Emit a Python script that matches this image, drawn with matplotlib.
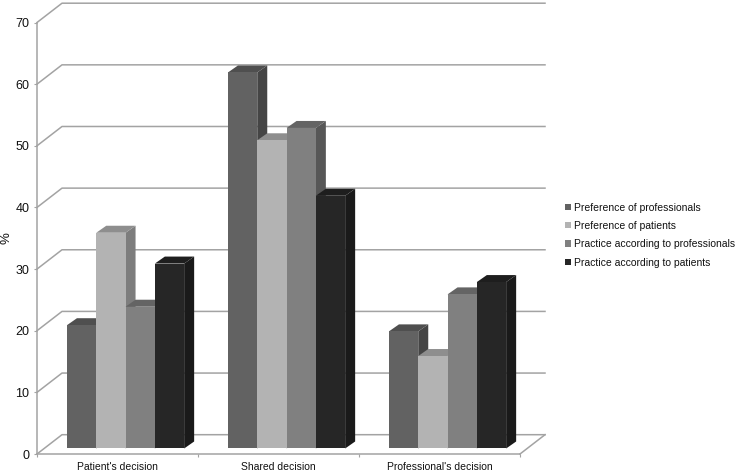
#!/usr/bin/env python3

# Pseudo-3D grouped bars, drawn by hand since the look is a spreadsheet 3D column chart

import numpy as np
from matplotlib import pyplot as plt
from matplotlib.patches import Polygon, Patch
import matplotlib

categories = ["Patient's decision", "Shared decision", "Professional's decision"]
series_names = ["Preference of professionals", "Preference of patients",
                "Practice according to professionals", "Practice according to patients"]
pref_professionals = [20, 61, 19]
pref_patients = [35, 50, 15]
prac_professionals = [23, 52, 25]
prac_patients = [30, 41, 27]
yticks = [0, 10, 20, 30, 40, 50, 60, 70]

params = {
    'font.family': ['Liberation Sans', 'DejaVu Sans'],
    'font.size': 8,
    'xtick.labelsize': 7.5,
    'ytick.labelsize': 9,
    'legend.fontsize': 7.5,
}
matplotlib.rcParams.update(params)

W, H = 737, 473
fig = plt.figure(figsize=(W / 100, H / 100), dpi=100)
ax = fig.add_axes([37 / W, 1 - 454 / H, 483 / W, 431.5 / H])
ax.set_xlim(0, 3)
ax.set_ylim(0, 70)
ax.patch.set_alpha(0)

gray = '#a3a3a3'

# offsets of the back wall and of the bar depth, in data units
wall_dx, wall_dy = 25 / 161, 19.3 / 6.164
depth_dx, depth_dy = 10 / 161, 7 / 6.164
floor = 5.5 / 6.164
width = 29.3 / 161

# back wall
for v in yticks:
    ax.plot([0, wall_dx, 3 + wall_dx], [v, v + wall_dy, v + wall_dy],
            color=gray, lw=1.1, clip_on=False, zorder=1)
ax.plot([3, 3 + wall_dx], [0, wall_dy], color=gray, lw=1.1, clip_on=False, zorder=1)

series = [pref_professionals, pref_patients, prac_professionals, prac_patients]
front = ['#626262', '#b3b3b3', '#808080', '#262626']
top = ['#4f4f4f', '#8e8e8e', '#646464', '#1e1e1e']
side = ['#454545', '#7d7d7d', '#575757', '#1a1a1a']

z = 3
for c in range(len(categories)):
    left = c + 0.55 - 2 * width
    for s in range(4):
        x0 = left + s * width
        x1 = x0 + width
        v = series[s][c]
        y0 = floor
        y1 = floor + v
        ax.add_patch(Polygon([(x1, y0), (x1 + depth_dx, y0 + depth_dy),
                              (x1 + depth_dx, y1 + depth_dy), (x1, y1)],
                             fc=side[s], ec='none', clip_on=False, zorder=z))
        ax.add_patch(Polygon([(x0, y1), (x0 + depth_dx, y1 + depth_dy),
                              (x1 + depth_dx, y1 + depth_dy), (x1, y1)],
                             fc=top[s], ec='none', clip_on=False, zorder=z))
        ax.bar(x0, v, width=width, bottom=floor, align='edge', color=front[s],
               clip_on=False, zorder=z + 0.5)
        z += 1

for name in ['top', 'right']:
    ax.spines[name].set_visible(False)
for name in ['left', 'bottom']:
    ax.spines[name].set_color(gray)
    ax.spines[name].set_linewidth(1.1)
    ax.spines[name].set_zorder(2)

ax.set_yticks(yticks)
ax.tick_params(axis='y', length=2.5, width=0.8, color=gray, pad=3, labelcolor='#111111')
ax.set_xticks([0, 1, 2, 3])
ax.set_xticklabels([])
ax.tick_params(axis='x', which='major', length=2.5, width=0.8, color=gray)
ax.set_xticks([0.5, 1.5, 2.5], minor=True)
ax.set_xticklabels(categories, minor=True)
ax.tick_params(axis='x', which='minor', length=0, pad=6, labelcolor='#111111')

fig.text(7 / W, 1 - 238 / H, "%", rotation=90, ha='center', va='center',
         fontsize=9.5, color='#111111')

handles = [Patch(fc=front[s], ec='none') for s in range(4)]
ax.legend(handles, series_names, loc='center left', bbox_to_anchor=(565 / W, 1 - 235 / H),
          bbox_transform=fig.transFigure, frameon=False, handlelength=0.55, handleheight=0.55,
          handletextpad=0.3, labelspacing=0.8, borderpad=0, borderaxespad=0,
          labelcolor='#111111')

plt.savefig("out.png", dpi=100)
